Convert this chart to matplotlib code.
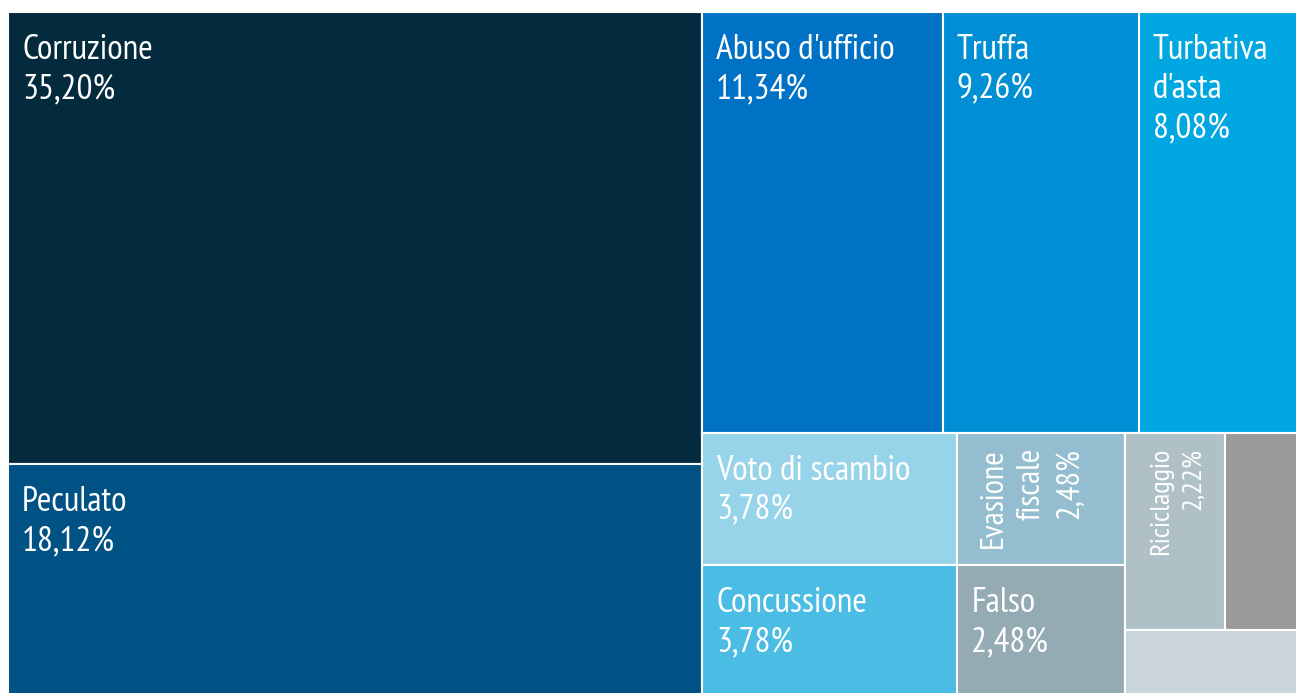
import matplotlib
matplotlib.use("Agg")
import matplotlib.pyplot as plt
from matplotlib.patches import Rectangle

# --------------------------------------------------
# Data (share of offences, %)
# --------------------------------------------------
labels = ["Corruzione", "Peculato", "Abuso d'ufficio", "Truffa", "Turbativa\nd'asta",
          "Voto di scambio", "Concussione", "Evasione\nfiscale", "Falso", "Riciclaggio",
          "", ""]
values = [35.20, 18.12, 11.34, 9.26, 8.08, 3.78, 3.78, 2.48, 2.48, 2.22, 1.87, 1.39]
colors = ["#032b3d", "#005184", "#0072c6", "#008fd5", "#00a7e0", "#97d4e9",
          "#4bbce4", "#94bed0", "#95abb4", "#afc0c6", "#999999", "#c9d5da"]
rotated = [False, False, False, False, False, False, False, True, False, True, False, False]
small = [False] * 9 + [True, False, False]


# --------------------------------------------------
# Squarified layout (same rule as d3 treemapSquarify, ratio = phi)
# --------------------------------------------------
def squarify(vals, x0, y0, x1, y1, ratio=1.618034):
    rects = []
    value = sum(vals)
    n = len(vals)
    i0 = i1 = 0
    while i0 < n:
        dx, dy = x1 - x0, y1 - y0
        sum_v = vals[i1]
        i1 += 1
        min_v = max_v = sum_v
        alpha = max(dy / dx, dx / dy) / (value * ratio)
        beta = sum_v * sum_v * alpha
        min_ratio = max(max_v / beta, beta / min_v)
        while i1 < n:
            v = vals[i1]
            sum_v += v
            min_v = min(min_v, v)
            max_v = max(max_v, v)
            beta = sum_v * sum_v * alpha
            new_ratio = max(max_v / beta, beta / min_v)
            if new_ratio > min_ratio:
                sum_v -= v
                break
            min_ratio = new_ratio
            i1 += 1
        row = vals[i0:i1]
        if dx < dy:
            # horizontal strip on top
            h = dy * sum_v / value
            cx = x0
            for v in row:
                w = dx * v / sum_v
                rects.append((cx, y0, w, h))
                cx += w
            y0 += h
        else:
            # vertical strip on the left
            w = dx * sum_v / value
            cy = y0
            for v in row:
                h = dy * v / sum_v
                rects.append((x0, cy, w, h))
                cy += h
            x0 += w
        value -= sum_v
        i0 = i1
    return rects


W, H = 1296, 693
fig = plt.figure(figsize=(W / 100, H / 100), dpi=100)
ax = fig.add_axes([0, 0, 1, 1])
ax.set_xlim(0, W)
ax.set_ylim(H, 0)
ax.axis("off")

rects = squarify(values, 8, 12, 1310, 697)
font = ["PT Sans Narrow", "Roboto Condensed", "Liberation Sans Narrow", "Archivo Narrow", "DejaVu Sans"]

for (x, y, w, h), lab, val, col, rot, sm in zip(rects, labels, values, colors, rotated, small):
    ax.add_patch(Rectangle((x, y), w, h, facecolor=col, edgecolor="white", linewidth=1.5))
    if not lab:
        continue
    txt = lab + "\n" + f"{val:.2f}".replace(".", ",") + "%"
    if rot:
        if sm:
            ax.text(x + 24, y + 15, txt, rotation=90, rotation_mode="anchor",
                    ha="right", va="top", multialignment="right",
                    color="white", fontsize=20.5, family=font, linespacing=1.45)
        else:
            ax.text(x + 21, y + 15, txt, rotation=90, rotation_mode="anchor",
                    ha="right", va="top", multialignment="right",
                    color="white", fontsize=23.5, family=font, linespacing=1.36)
    else:
        ax.text(x + 14, y + 22, txt, ha="left", va="top", color="white",
                fontsize=25.5, family=font, linespacing=1.28)

fig.savefig("out.png", dpi=100)
